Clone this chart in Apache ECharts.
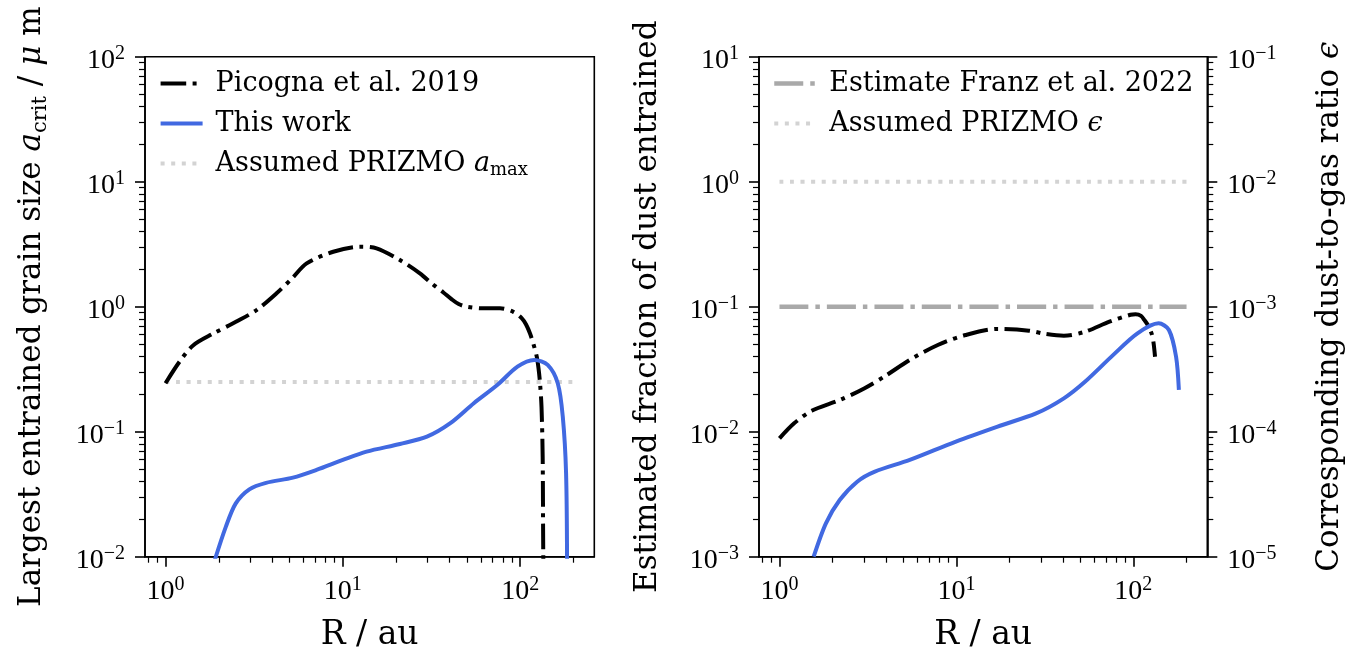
<!DOCTYPE html>
<html>
<head>
<meta charset="utf-8">
<script src="https://cdn.jsdelivr.net/npm/echarts@6/dist/echarts.min.js"></script>
<style>
  html, body { margin: 0; padding: 0; background: #fff; }
  #chart { width: 1348px; height: 653px; }
</style>
</head>
<body>
<div id="chart"></div>
<script>
// ~~ Data

// left panel: largest entrained grain size (um) against R (au)
const picognaR = [1.0, 1.2, 1.43, 1.86, 2.51, 3.26, 4.23, 5.2, 6.25, 8.83, 12.5, 15.5, 21, 27.2, 32, 36.9, 41, 45, 50, 62, 77, 91.5, 102, 108, 113.7, 119, 124, 127, 129.5, 132, 134, 135, 136.5]
const picognaA = [0.244, 0.363, 0.49, 0.61, 0.76, 0.94, 1.28, 1.7, 2.22, 2.75, 3.02, 2.93, 2.36, 1.85, 1.52, 1.3, 1.15, 1.05, 1.0, 0.97, 0.97, 0.91, 0.81, 0.72, 0.61, 0.5, 0.4, 0.32, 0.244, 0.158, 0.063, 0.011, 0.004]
const thisWorkR = [1.9, 2.19, 2.49, 2.97, 3.69, 5.23, 7.1, 10.0, 13.6, 21, 29.8, 40.4, 54.8, 74.3, 96.6, 120, 143, 163, 174, 181.6, 184]
const thisWorkA = [0.0095, 0.0174, 0.0267, 0.0346, 0.039, 0.0429, 0.0494, 0.0594, 0.0692, 0.0797, 0.0912, 0.117, 0.169, 0.236, 0.331, 0.375, 0.342, 0.244, 0.132, 0.0465, 0.008]
const prizmoAmaxR = [1, 200]
const prizmoAmax = [0.25, 0.25]

// right panel: estimated fraction of dust entrained against R (au)
const picognaFracR = [1.0, 1.21, 1.52, 2.19, 3.01, 3.96, 5.45, 7.85, 11.3, 17.1, 25.7, 32, 40.5, 53.3, 73.3, 96.4, 103, 110.6, 115.7, 121, 126.8, 130, 132.7]
const picognaFrac = [0.00885, 0.01167, 0.0147, 0.0179, 0.0222, 0.0279, 0.0375, 0.0494, 0.0594, 0.0664, 0.0643, 0.0605, 0.0586, 0.063, 0.0759, 0.0862, 0.087, 0.0845, 0.078, 0.071, 0.0612, 0.052, 0.0398]
const thisWorkFracR = [1.56, 1.83, 2.19, 2.75, 3.46, 5.45, 9.86, 17.1, 28.2, 40.5, 53.3, 76.8, 105.6, 139, 159, 174.5, 181]
const thisWorkFrac = [0.001, 0.00185, 0.00284, 0.00398, 0.00479, 0.00594, 0.0083, 0.011, 0.014, 0.0185, 0.0251, 0.041, 0.0612, 0.0736, 0.0651, 0.0398, 0.0216]
const franzR = [1, 200]
const franzFrac = [0.1, 0.1]
const prizmoEpsR = [1, 200]
const prizmoEps = [0.01, 0.01]

// axes
const xRange = [0.766, 262]
const xMajor = [1, 10, 100]
const yLeftMajor = [0.01, 0.1, 1, 10, 100]
const yFracMajor = [0.001, 0.01, 0.1, 1, 10]
const yEpsMajor = [0.00001, 0.0001, 0.001, 0.01, 0.1]

const SERIF = '"DejaVu Serif", serif'
const NUM = '"Liberation Serif", serif'
const AXIS_W = 1.6

const minorTicks = function (lo, hi) {
  const out = []
  for (let e = Math.floor(Math.log10(lo)); e <= Math.ceil(Math.log10(hi)); e++) {
    for (let m = 2; m <= 9; m++) {
      const v = +(m * Math.pow(10, e)).toPrecision(3)
      if (v >= lo && v <= hi) out.push(v)
    }
  }
  return out
}

const zip = (xs, ys) => xs.map((x, i) => [x, ys[i]])

const powLabel = function (v) {
  const e = Math.round(Math.log10(v))
  return `{b|10}{s|${e < 0 ? '\u2212' + -e : e}}`
}

const tickRich = {
  b: { fontFamily: NUM, fontSize: 28, lineHeight: 34, color: '#000' },
  s: { fontFamily: NUM, fontSize: 20, lineHeight: 20, verticalAlign: 'top', color: '#000' },
}

const NAME_FS = 31
const nameRich = {
  t: { fontFamily: SERIF, fontSize: NAME_FS, lineHeight: 38, color: '#000' },
  i: { fontFamily: SERIF, fontSize: NAME_FS, fontStyle: 'italic', lineHeight: 38, color: '#000' },
  sub: { fontFamily: SERIF, fontSize: 21, lineHeight: 26, verticalAlign: 'bottom', color: '#000' },
}

const logAxis = function (o) {
  const minor = !!o.minor
  return {
    type: 'log',
    logBase: 10,
    gridIndex: o.grid,
    position: o.position,
    min: o.min,
    max: o.max,
    name: minor ? '' : o.name,
    nameLocation: 'middle',
    nameGap: o.nameGap,
    nameRotate: o.nameRotate,
    nameTextStyle: { fontFamily: SERIF, fontSize: o.nameSize || NAME_FS, color: '#000', rich: nameRich },
    axisLine: { show: !minor, onZero: false, lineStyle: { color: '#000', width: AXIS_W } },
    axisTick: {
      show: true,
      length: minor ? 6 : 10,
      customValues: o.ticks,
      lineStyle: { color: '#000', width: minor ? 1.2 : AXIS_W },
    },
    axisLabel: {
      show: !minor,
      customValues: o.ticks,
      formatter: powLabel,
      rich: tickRich,
      margin: o.margin,
      padding: o.labelPadding || 0,
    },
    splitLine: { show: false },
    minorTick: { show: false },
    silent: true,
  }
}

const xAxes = []
const yAxes = []
;[0, 1].forEach((g) => {
  xAxes.push(logAxis({ grid: g, position: 'bottom', min: xRange[0], max: xRange[1], ticks: xMajor, name: 'R / au', nameSize: 33, nameGap: 62, margin: 18 }))
  xAxes.push(logAxis({ grid: g, position: 'bottom', min: xRange[0], max: xRange[1], ticks: minorTicks(xRange[0], xRange[1]), minor: true }))
})

yAxes.push(logAxis({ grid: 0, position: 'left', min: 0.01, max: 100, ticks: yLeftMajor, nameRotate: 90, nameGap: 94, margin: 20, labelPadding: [8, 0, 0, 0], name: '{t|Largest entrained grain size }{i|a}{sub|crit}{t| / }{i|\u03bc}{t| m}' }))
yAxes.push(logAxis({ grid: 0, position: 'left', min: 0.01, max: 100, ticks: minorTicks(0.01, 100), minor: true }))
yAxes.push(logAxis({ grid: 1, position: 'left', min: 0.001, max: 10, ticks: yFracMajor, nameRotate: 90, nameGap: 92, margin: 20, labelPadding: [8, 0, 0, 0], name: '{t|Estimated fraction of dust entrained}' }))
yAxes.push(logAxis({ grid: 1, position: 'left', min: 0.001, max: 10, ticks: minorTicks(0.001, 10), minor: true }))
yAxes.push(logAxis({ grid: 1, position: 'right', min: 0.00001, max: 0.1, ticks: yEpsMajor, nameRotate: 90, nameGap: 104, margin: 20, labelPadding: [8, 0, 0, 0], name: '{t|Corresponding dust-to-gas ratio }{i|\u03f5}' }))
yAxes.push(logAxis({ grid: 1, position: 'right', min: 0.00001, max: 0.1, ticks: minorTicks(0.00001, 0.1), minor: true }))

const line = function (name, data, xi, yi, color, width, type) {
  return {
    name,
    type: 'line',
    xAxisIndex: xi,
    yAxisIndex: yi,
    data,
    symbol: 'none',
    showSymbol: false,
    smooth: 0.3,
    clip: true,
    lineStyle: { color, width, type, cap: 'butt' },
    itemStyle: { color },
    emphasis: { disabled: true },
  }
}

const LW = 4
const DASHDOT = [25.6, 6.4, 4, 6.4]
const DASHDOT_WIDE = [29, 7, 4.5, 7]
const DOTTED = [4, 6.6]

const legendText = {
  t: { fontFamily: SERIF, fontSize: 27, lineHeight: 32, color: '#000' },
  i: { fontFamily: SERIF, fontSize: 27, fontStyle: 'italic', lineHeight: 32, color: '#000' },
  sub: { fontFamily: SERIF, fontSize: 18, lineHeight: 24, verticalAlign: 'bottom', color: '#000' },
}
const legendFormat = function (name) {
  if (name === 'Assumed PRIZMO amax') return '{t|Assumed PRIZMO }{i|a}{sub|max}'
  if (name === 'Assumed PRIZMO eps') return '{t|Assumed PRIZMO }{i|\u03f5}'
  return `{t|${name}}`
}
const legendBase = {
  orient: 'vertical',
  padding: 0,
  itemWidth: 42,
  itemHeight: 14,
  itemGap: 13,
  selectedMode: false,
  formatter: legendFormat,
  itemStyle: { color: 'rgba(0,0,0,0)', borderWidth: 0, opacity: 0 },
  lineStyle: { width: 'inherit', type: 'inherit', color: 'inherit' },
  textStyle: { rich: legendText, padding: [0, 0, 0, 8] },
}

const gridBase = { top: 56.7, bottom: 96.3, show: true, borderColor: '#000', borderWidth: AXIS_W, containLabel: false, outerBoundsMode: 'none' }

const option = {
  animation: false,
  grid: [
    { ...gridBase, left: 145, right: 753.7 },
    { ...gridBase, left: 759, right: 140.7 },
  ],
  xAxis: xAxes,
  yAxis: yAxes,
  legend: [
    { ...legendBase, left: 158.6, top: 70, data: ['Picogna et al. 2019', 'This work', 'Assumed PRIZMO amax'] },
    { ...legendBase, left: 772, top: 70, data: ['Estimate Franz et al. 2022', 'Assumed PRIZMO eps'] },
  ],
  series: [
    line('Assumed PRIZMO amax', zip(prizmoAmaxR, prizmoAmax), 0, 0, '#d3d3d3', LW, DOTTED),
    line('Picogna et al. 2019', zip(picognaR, picognaA), 0, 0, '#000', LW, DASHDOT),
    line('This work', zip(thisWorkR, thisWorkA), 0, 0, '#4169e1', LW, 'solid'),
    line('Estimate Franz et al. 2022', zip(franzR, franzFrac), 2, 2, '#a9a9a9', 4.5, DASHDOT_WIDE),
    line('Assumed PRIZMO eps', zip(prizmoEpsR, prizmoEps), 2, 4, '#d3d3d3', LW, DOTTED),
    line('Picogna et al. 2019', zip(picognaFracR, picognaFrac), 2, 2, '#000', LW, DASHDOT),
    line('This work', zip(thisWorkFracR, thisWorkFrac), 2, 2, '#4169e1', LW, 'solid'),
  ],
}

const chart = echarts.init(document.getElementById('chart'), null, { renderer: 'canvas' })
chart.setOption(option)
</script>
</body>
</html>
